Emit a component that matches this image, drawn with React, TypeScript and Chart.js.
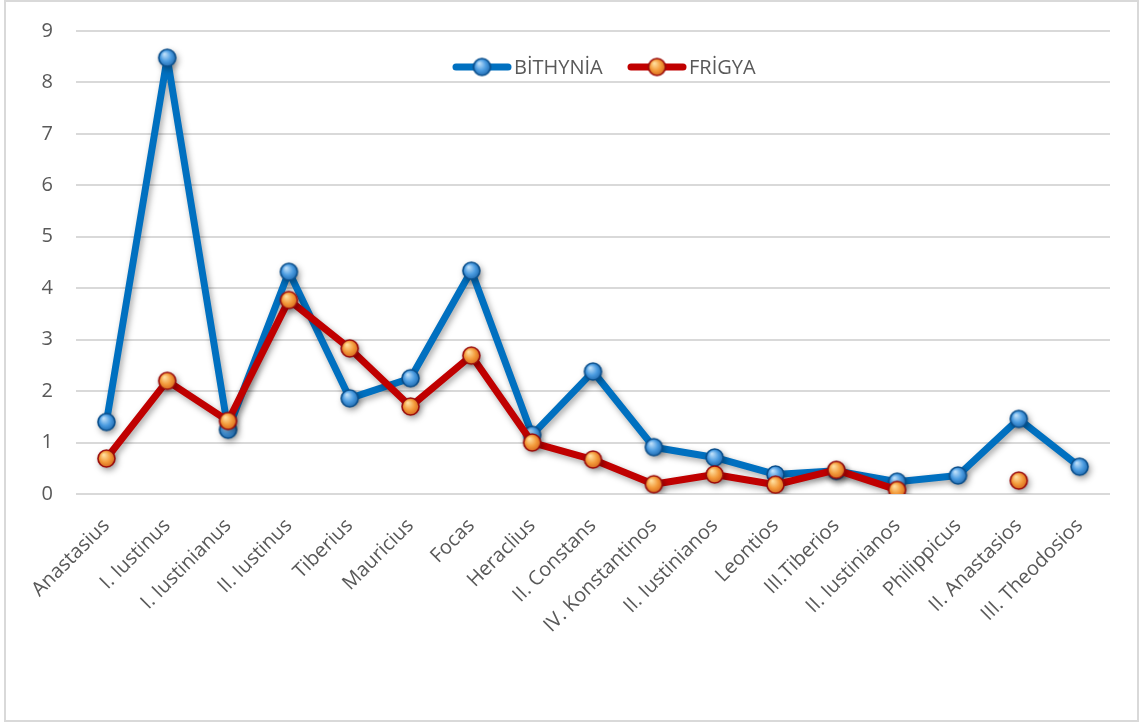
import React, { useEffect, useRef } from 'react';
import { Chart, registerables } from 'chart.js';
Chart.register(...registerables);

const categories = [
  'Anastasius', 'I. Iustinus', 'I. Iustinianus', 'II. Iustinus', 'Tiberius', 'Mauricius', 'Focas',
  'Heraclius', 'II. Constans', 'IV. Konstantinos', 'II. Iustinianos', 'Leontios', 'III.Tiberios',
  'II. Iustinianos', 'Philippicus', 'II. Anastasios', 'III. Theodosios',
];
const bithynia = [1.40, 8.48, 1.25, 4.32, 1.86, 2.25, 4.34, 1.15, 2.38, 0.91, 0.71, 0.38, 0.45, 0.24, 0.36, 1.46, 0.53];
const frigya = [0.69, 2.20, 1.42, 3.77, 2.83, 1.70, 2.69, 1.00, 0.67, 0.19, 0.38, 0.18, 0.47, 0.08, null, 0.26, null];
const seriesNames = ['BİTHYNİA', 'FRİGYA'];
const yMin = 0;
const yMax = 9;
const yStep = 1;

const FONT = "'Open Sans', 'DejaVu Sans', sans-serif";
const TEXT = '#595959';
const BLUE = '#0070C0';
const RED = '#C00000';

function makeBall(r: number, light: string, mid: string, dark: string, border: string) {
  const size = Math.ceil(r * 2 + 2);
  const c = document.createElement('canvas');
  c.width = size;
  c.height = size;
  const g = c.getContext('2d')!;
  const cx = size / 2;
  const grad = g.createRadialGradient(cx - r * 0.3, cx - r * 0.4, r * 0.05, cx, cx, r);
  grad.addColorStop(0, light);
  grad.addColorStop(0.55, mid);
  grad.addColorStop(1, dark);
  g.beginPath();
  g.arc(cx, cx, r - 1, 0, Math.PI * 2);
  g.fillStyle = grad;
  g.fill();
  g.lineWidth = 1.6;
  g.strokeStyle = border;
  g.stroke();
  return c;
}

export default function App() {
  const ref = useRef<HTMLCanvasElement>(null);
  useEffect(() => {
    const blueBall = makeBall(9.5, '#BFE0FA', '#4A9BE0', '#1B64A8', '#0A4F8C');
    const redBall = makeBall(9.5, '#FFE0A0', '#F39A3A', '#D0601A', '#9A0A0A');

    const shadowPlugin = {
      id: 'shadow',
      beforeDatasetsDraw(chart: any) {
        const ctx = chart.ctx;
        ctx.save();
        ctx.shadowColor = 'rgba(0,0,0,0.35)';
        ctx.shadowBlur = 6;
        ctx.shadowOffsetX = 2;
        ctx.shadowOffsetY = 3;
      },
      afterDatasetsDraw(chart: any) {
        chart.ctx.restore();
      },
    };

    const legendPlugin = {
      id: 'customLegend',
      afterDraw(chart: any) {
        const ctx = chart.ctx;
        const y = 67;
        ctx.save();
        ctx.font = `20px ${FONT}`;
        ctx.textBaseline = 'middle';
        ctx.fillStyle = TEXT;
        const items = [
          { name: seriesNames[0], color: BLUE, ball: blueBall, x: 453 },
          { name: seriesNames[1], color: RED, ball: redBall, x: 628 },
        ];
        for (const it of items) {
          ctx.strokeStyle = it.color;
          ctx.lineWidth = 7;
          ctx.lineCap = 'round';
          ctx.beginPath();
          ctx.moveTo(it.x + 3, y);
          ctx.lineTo(it.x + 55, y);
          ctx.stroke();
          ctx.drawImage(it.ball, it.x + 29 - it.ball.width / 2, y - it.ball.height / 2);
          ctx.fillStyle = TEXT;
          ctx.textAlign = 'left';
          ctx.fillText(it.name, it.x + 61, y + 1);
        }
        ctx.restore();
      },
    };

    const chart = new Chart(ref.current!, {
      type: 'line',
      data: {
        labels: categories,
        datasets: [
          {
            label: seriesNames[0],
            data: bithynia,
            borderColor: BLUE,
            borderWidth: 7,
            borderJoinStyle: 'round',
            borderCapStyle: 'round',
            pointStyle: blueBall as any,
            pointRadius: 9,
            tension: 0,
            order: 2,
          },
          {
            label: seriesNames[1],
            data: frigya as any,
            borderColor: RED,
            borderWidth: 7,
            borderJoinStyle: 'round',
            borderCapStyle: 'round',
            pointStyle: redBall as any,
            pointRadius: 9,
            tension: 0,
            spanGaps: false,
            order: 1,
          },
        ],
      },
      options: {
        animation: false,
        responsive: false,
        layout: { padding: { top: 31, right: 30, left: 0, bottom: 0 } },
        plugins: { legend: { display: false }, tooltip: { enabled: false } },
        scales: {
          x: {
            offset: true,
            grid: { display: false, drawTicks: false, offset: true },
            border: { display: false },
            ticks: {
              autoSkip: false,
              minRotation: 45,
              maxRotation: 45,
              padding: 20,
              color: TEXT,
              font: { family: FONT, size: 20 },
            },
            afterFit: (s: any) => { s.height = 230; },
          },
          y: {
            min: yMin,
            max: yMax,
            ticks: { stepSize: yStep, padding: 23, color: TEXT, font: { family: FONT, size: 20 } },
            grid: { color: '#D9D9D9', lineWidth: 2, drawTicks: false },
            border: { display: false },
            afterFit: (s: any) => {
              s.width = 76;
              s.paddingTop = 10;
              s.paddingBottom = 10;
            },
          },
        },
      },
      plugins: [shadowPlugin, legendPlugin],
    });
    return () => chart.destroy();
  }, []);

  return (
    <div style={{ position: 'fixed', left: 0, top: 0, width: 1140, height: 724, background: '#fff' }}>
      <div style={{ position: 'absolute', left: 4, top: 0, width: 1131, height: 718, border: '2px solid #D9D9D9' }} />
      <canvas ref={ref} width={1140} height={724} style={{ position: 'absolute', left: 0, top: 0 }} />
    </div>
  );
}
